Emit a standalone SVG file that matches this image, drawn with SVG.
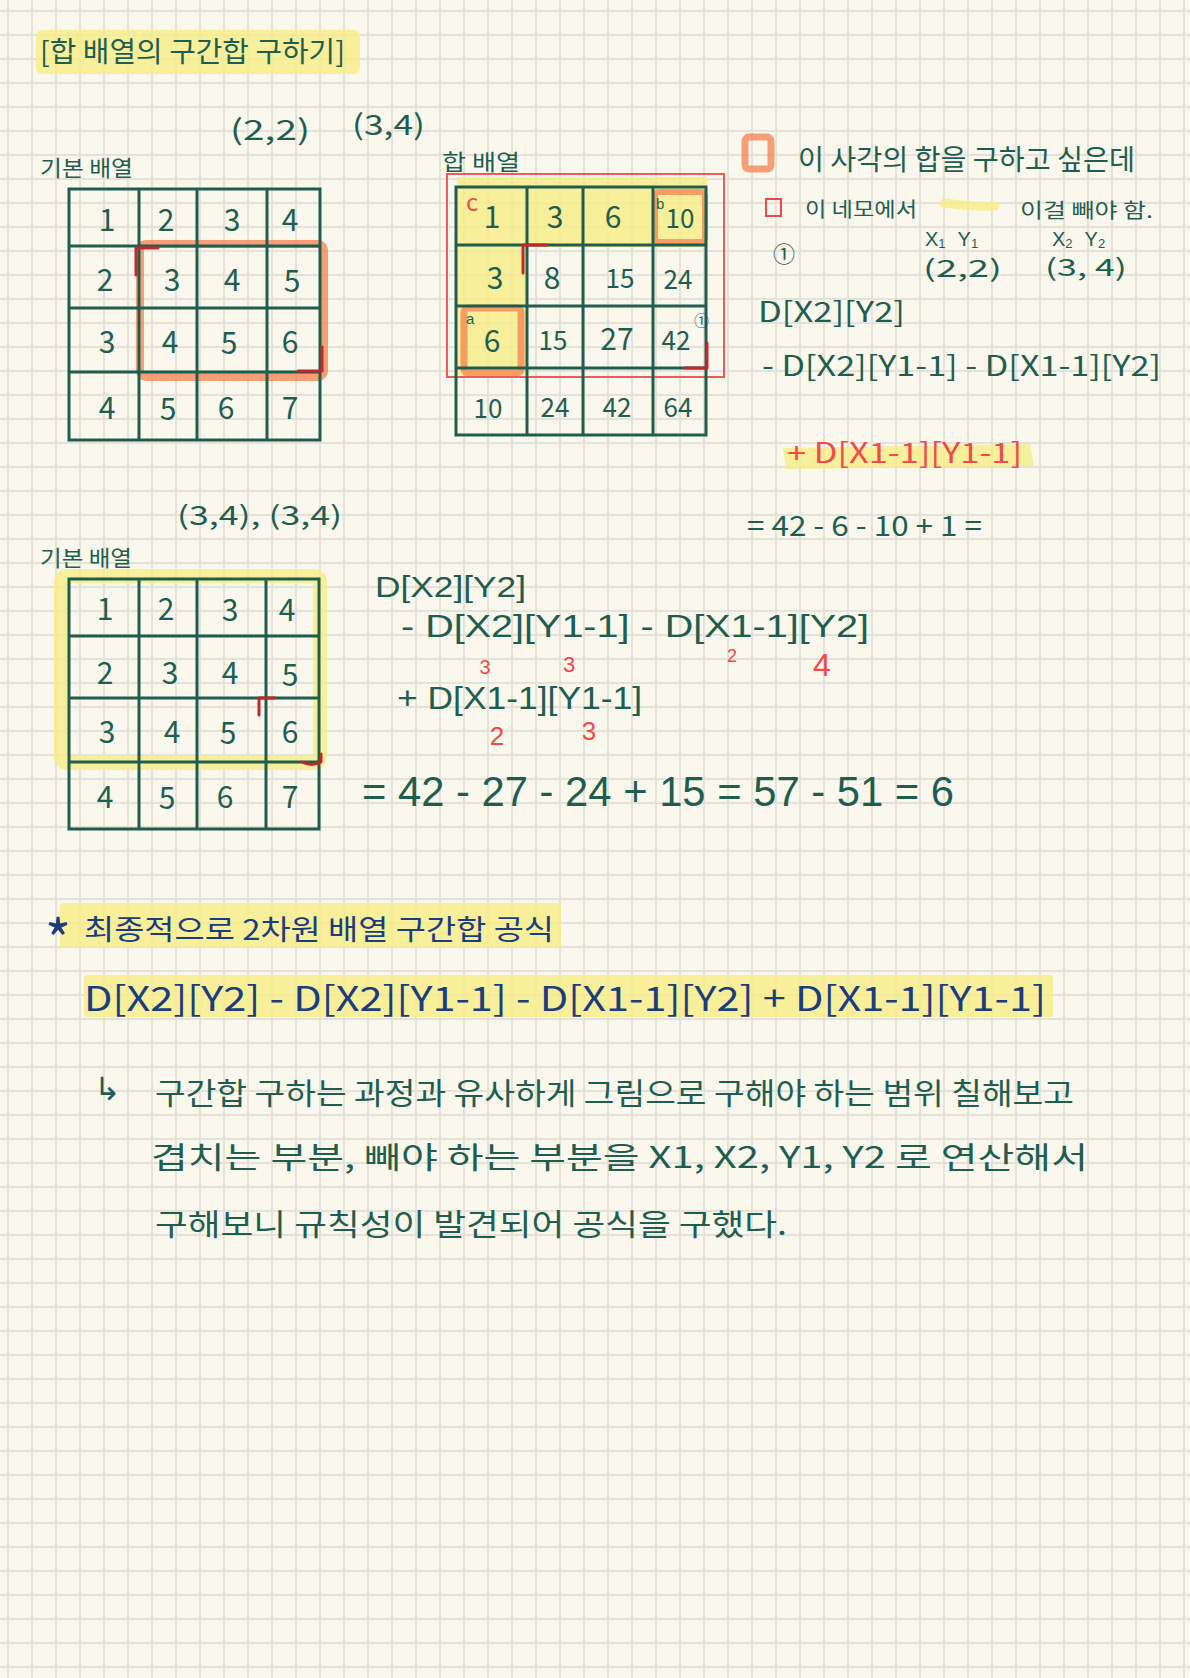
<svg xmlns="http://www.w3.org/2000/svg" width="1190" height="1678" viewBox="0 0 1190 1678">
<style>
text{font-family:"Noto Sans CJK KR","Noto Sans",sans-serif}
.lat{font-family:"Liberation Sans","Noto Sans",sans-serif}
.g{fill:#1f5e4f}
.b{fill:#1b3c7d}
.r{fill:#f04a4a}
.n{fill:#1f5e4f;font-size:30px;text-anchor:middle}
.n2{fill:#1f5e4f;font-size:26px;text-anchor:middle}
.tbl{stroke:#1f5e4f;stroke-width:3;fill:none;stroke-linecap:round}
.hl{fill:#f7ec86;opacity:.8}
.hls{stroke:#f7ec86;opacity:.8;fill:none;stroke-linejoin:round;stroke-linecap:round}
.or{stroke:#f4814f;opacity:.75;fill:none;stroke-linejoin:round}
.mk{stroke:#c0282b;stroke-width:3;fill:none;stroke-linecap:round;stroke-linejoin:round}
.rt{fill:#f04a4a;text-anchor:middle;font-family:"Liberation Sans","Noto Sans",sans-serif}
</style>
<defs>
<pattern id="grid" patternUnits="userSpaceOnUse" x="7" y="10" width="24" height="24">
<rect x="0" y="0" width="24" height="24" fill="#faf8ec"/>
<rect x="0" y="0" width="2" height="24" fill="#e4e2d9"/>
<rect x="0" y="0" width="24" height="2" fill="#e4e2d9"/>
</pattern>
</defs>
<rect width="1190" height="1678" fill="url(#grid)"/>

<g id="title">
<rect class="hl" x="36" y="30" width="324" height="44" rx="6"/>
<text class="g" x="40" y="62" font-size="28" textLength="305" lengthAdjust="spacingAndGlyphs">[합 배열의 구간합 구하기]</text>
</g>

<g id="coords-top">
<text class="g" x="230" y="140" font-size="28" textLength="80" lengthAdjust="spacingAndGlyphs">(2,2)</text>
<text class="g" x="352" y="135" font-size="28" textLength="73" lengthAdjust="spacingAndGlyphs">(3,4)</text>
</g>

<g id="table1">
<text class="g" x="40" y="176" font-size="22" textLength="93" lengthAdjust="spacingAndGlyphs">기본 배열</text>
<rect class="or" x="140" y="244" width="184" height="133" rx="6" stroke-width="8"/>
<path class="tbl" d="M69 189 H320 V440 H69 Z M139 189 V440 M197 189 V440 M267 189 V440 M69 246 H320 M69 308 H320 M69 372 H320"/>
<path class="mk" d="M136 275 V248 H158 M322 347 V371 H298"/>
<text class="n" x="107" y="231">1</text><text class="n" x="166" y="231">2</text><text class="n" x="232" y="231">3</text><text class="n" x="290" y="231">4</text>
<text class="n" x="105" y="291">2</text><text class="n" x="172" y="291">3</text><text class="n" x="232" y="291">4</text><text class="n" x="292" y="292">5</text>
<text class="n" x="107" y="353">3</text><text class="n" x="170" y="353">4</text><text class="n" x="229" y="354">5</text><text class="n" x="290" y="353">6</text>
<text class="n" x="107" y="419">4</text><text class="n" x="168" y="420">5</text><text class="n" x="226" y="419">6</text><text class="n" x="290" y="419">7</text>
</g>

<g id="table2">
<text class="g" x="442" y="170" font-size="22" textLength="78" lengthAdjust="spacingAndGlyphs">합 배열</text>
<path class="hl" d="M457 177 H707 V247 H527 V375 H457 Z"/>
<rect class="or" x="655" y="192" width="50" height="50" rx="4" stroke-width="6"/>
<rect class="or" x="464" y="308" width="57" height="65" rx="4" stroke-width="7"/>
<rect x="447" y="174" width="277" height="203" fill="none" stroke="#f05a5a" stroke-width="2"/>
<path class="tbl" d="M456 187 H706 V435 H456 Z M527 187 V435 M583 187 V435 M653 187 V435 M456 245 H706 M456 306 H706 M456 368 H706"/>
<path class="mk" d="M523 273 V245 H547 M707 343 V368 H685"/>
<text class="r" x="466" y="211" font-size="24">c</text>
<text class="g lat" x="656" y="209" font-size="15">b</text>
<text class="g lat" x="466" y="324" font-size="15">a</text>
<text class="g" x="694" y="326" font-size="15">①</text>
<text class="n" x="492" y="228">1</text><text class="n" x="555" y="228">3</text><text class="n" x="613" y="228">6</text><text class="n2" x="680" y="228">10</text>
<text class="n" x="495" y="289">3</text><text class="n" x="552" y="289">8</text><text class="n2" x="620" y="288">15</text><text class="n2" x="678" y="289">24</text>
<text class="n" x="492" y="352">6</text><text class="n2" x="553" y="350">15</text><text class="n" x="617" y="350">27</text><text class="n2" x="676" y="350">42</text>
<text class="n2" x="488" y="418">10</text><text class="n2" x="555" y="417">24</text><text class="n2" x="617" y="417">42</text><text class="n2" x="678" y="417">64</text>
</g>

<g id="explain-right">
<rect class="or" x="745" y="137" width="26" height="32" rx="4" stroke-width="7"/>
<text class="g" x="798" y="170" font-size="28" textLength="337" lengthAdjust="spacingAndGlyphs">이 사각의 합을 구하고 싶은데</text>
<rect x="766" y="199" width="15" height="17" fill="none" stroke="#f04848" stroke-width="2"/>
<text class="g" x="805" y="217" font-size="20" textLength="112" lengthAdjust="spacingAndGlyphs">이 네모에서</text>
<path class="hls" d="M944 203 Q970 207 995 206" stroke-width="9"/>
<text class="g" x="1020" y="218" font-size="20" textLength="133" lengthAdjust="spacingAndGlyphs">이걸 빼야 함.</text>
<text class="g" x="773" y="262" font-size="22">①</text>
<text class="g lat" x="925" y="246" font-size="20">X<tspan font-size="13" dy="2">1</tspan><tspan dx="12" dy="-2">Y</tspan><tspan font-size="13" dy="2">1</tspan></text>
<text class="g lat" x="1052" y="246" font-size="20">X<tspan font-size="13" dy="2">2</tspan><tspan dx="12" dy="-2">Y</tspan><tspan font-size="13" dy="2">2</tspan></text>
<text class="g" x="923" y="277" font-size="24" textLength="79" lengthAdjust="spacingAndGlyphs">(2,2)</text>
<text class="g" x="1045" y="276" font-size="24" textLength="82" lengthAdjust="spacingAndGlyphs">(3, 4)</text>
<text class="g" x="758" y="322" font-size="28" textLength="147" lengthAdjust="spacingAndGlyphs">D[X2][Y2]</text>
<text class="g" x="762" y="376" font-size="28" textLength="399" lengthAdjust="spacingAndGlyphs">- D[X2][Y1-1] - D[X1-1][Y2]</text>
<path class="hl" d="M783 448 L1030 444 L1034 466 L786 469 Z"/>
<text class="r" x="787" y="463" font-size="28" textLength="235" lengthAdjust="spacingAndGlyphs">+ D[X1-1][Y1-1]</text>
<text class="g" x="747" y="536" font-size="28" textLength="235" lengthAdjust="spacingAndGlyphs">= 42 - 6 - 10 + 1 =</text>
</g>

<g id="table3">
<text class="g" x="177" y="525" font-size="26" textLength="165" lengthAdjust="spacingAndGlyphs">(3,4), (3,4)</text>
<text class="g" x="40" y="566" font-size="22" textLength="92" lengthAdjust="spacingAndGlyphs">기본 배열</text>
<rect class="hls" x="61" y="576" width="259" height="187" rx="6" stroke-width="14"/>
<path class="tbl" d="M69 579 H319 V829 H69 Z M139 579 V829 M197 579 V829 M266 579 V829 M69 636 H319 M69 698 H319 M69 762 H319"/>
<path class="mk" d="M259 715 V698 H275 M321 754 V762 Q312 767 302 762"/>
<text class="n" x="105" y="620">1</text><text class="n" x="166" y="620">2</text><text class="n" x="230" y="621">3</text><text class="n" x="287" y="621">4</text>
<text class="n" x="105" y="684">2</text><text class="n" x="170" y="684">3</text><text class="n" x="230" y="684">4</text><text class="n" x="290" y="686">5</text>
<text class="n" x="107" y="743">3</text><text class="n" x="172" y="743">4</text><text class="n" x="228" y="744">5</text><text class="n" x="290" y="743">6</text>
<text class="n" x="105" y="808">4</text><text class="n" x="167" y="809">5</text><text class="n" x="225" y="808">6</text><text class="n" x="290" y="808">7</text>
</g>

<g id="formula-calc">
<text class="g lat" x="375" y="597" font-size="30" textLength="151" lengthAdjust="spacingAndGlyphs">D[X2][Y2]</text>
<text class="g lat" x="401" y="637" font-size="32" textLength="468" lengthAdjust="spacingAndGlyphs">- D[X2][Y1-1] - D[X1-1][Y2]</text>
<text class="rt" x="485" y="674" font-size="20">3</text>
<text class="rt" x="569" y="672" font-size="22">3</text>
<text class="rt" x="732" y="662" font-size="18">2</text>
<text class="rt" x="822" y="676" font-size="32">4</text>
<text class="g lat" x="397" y="709" font-size="32" textLength="245" lengthAdjust="spacingAndGlyphs">+ D[X1-1][Y1-1]</text>
<text class="rt" x="497" y="745" font-size="26">2</text>
<text class="rt" x="589" y="740" font-size="26">3</text>
<text class="g lat" x="362" y="806" font-size="42" textLength="592" lengthAdjust="spacingAndGlyphs">= 42 - 27 - 24 + 15 = 57 - 51 = 6</text>
</g>

<g id="final-formula">
<rect class="hl" x="60" y="903" width="501" height="45" rx="3"/>
<text class="b" x="45" y="961" font-size="56" font-family="DejaVu Sans, sans-serif">*</text>
<text class="b" x="84" y="940" font-size="28" textLength="470" lengthAdjust="spacingAndGlyphs">최종적으로 2차원 배열 구간합 공식</text>
<rect class="hl" x="84" y="975" width="969" height="42" rx="3"/>
<text class="b" x="84" y="1011" font-size="34" textLength="962" lengthAdjust="spacingAndGlyphs">D[X2][Y2] - D[X2][Y1-1] - D[X1-1][Y2] + D[X1-1][Y1-1]</text>
</g>

<g id="note">
<text class="g" x="94" y="1100" font-size="32">↳</text>
<text class="g" x="155" y="1104" font-size="30" textLength="919" lengthAdjust="spacingAndGlyphs">구간합 구하는 과정과 유사하게 그림으로 구해야 하는 범위 칠해보고</text>
<text class="g" x="151" y="1168" font-size="30" textLength="937" lengthAdjust="spacingAndGlyphs">겹치는 부분, 빼야 하는 부분을 X1, X2, Y1, Y2 로 연산해서</text>
<text class="g" x="155" y="1235" font-size="30" textLength="632" lengthAdjust="spacingAndGlyphs">구해보니 규칙성이 발견되어 공식을 구했다.</text>
</g>
</svg>
